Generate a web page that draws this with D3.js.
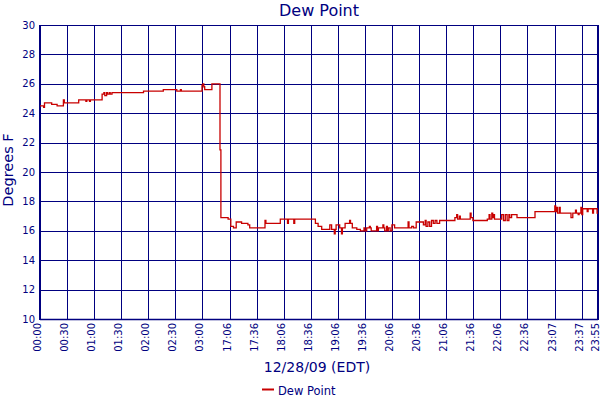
<!DOCTYPE html>
<html>
<head>
<meta charset="utf-8">
<script src="https://cdn.jsdelivr.net/npm/d3@7"></script>
<style>
  body { margin: 0; background: #fff; }
  text { font-family: "DejaVu Sans", Verdana, sans-serif; fill: #000080; }
</style>
</head>
<body>
<svg id="chart" width="600" height="400"></svg>
<script>
const chartTitle = "Dew Point";
const xTitle = "12/28/09 (EDT)";
const yTitle = "Degrees F";
const seriesName = "Dew Point";

const yTicks = [10, 12, 14, 16, 18, 20, 22, 24, 26, 28, 30];
const xTickLabels = ["00:00", "00:30", "01:00", "01:30", "02:00", "02:30", "03:00",
  "17:06", "17:36", "18:06", "18:36", "19:06", "19:36", "20:06", "20:36", "21:06",
  "21:36", "22:06", "22:36", "23:07", "23:37", "23:55"];

// logger was off between these two readings, chart squeezes it to one sample
const gapTimes = ["03:20", "16:56"];
const lastTime = "23:55";

// [time, dew point F] - value holds until the next reading
const readings = [
  ["00:00", 24.5], ["00:04", 24.4], ["00:05", 24.7], ["00:13", 24.6], ["00:19", 24.5],
  ["00:26", 24.9], ["00:27", 24.7], ["00:43", 24.9], ["00:51", 24.8], ["00:52", 24.9],
  ["00:55", 24.8], ["00:56", 24.9], ["01:09", 25.3], ["01:11", 25.4], ["01:12", 25.2],
  ["01:14", 25.4], ["01:15", 25.3], ["01:17", 25.4], ["01:18", 25.3], ["01:20", 25.4],
  ["01:55", 25.5], ["02:17", 25.6], ["02:32", 25.5], ["02:36", 25.6], ["02:37", 25.5],
  ["03:00", 25.9], ["03:01", 26.0], ["03:02", 25.8], ["03:03", 25.6], ["03:11", 26.0],
  ["03:20", 21.5],
  ["16:56", 16.9], ["17:04", 16.8], ["17:07", 16.3], ["17:10", 16.2], ["17:13", 16.6],
  ["17:19", 16.5], ["17:26", 16.4], ["17:28", 16.2], ["17:45", 16.7], ["17:46", 16.5],
  ["18:02", 16.8], ["18:10", 16.5], ["18:11", 16.8], ["18:17", 16.5], ["18:18", 16.8],
  ["18:41", 16.5], ["18:44", 16.3], ["18:48", 16.1], ["18:57", 16.4], ["18:59", 16.1],
  ["19:02", 15.8], ["19:03", 16.1], ["19:04", 16.4], ["19:08", 16.2], ["19:10", 15.8],
  ["19:11", 16.2], ["19:14", 16.5], ["19:19", 16.7], ["19:20", 16.5], ["19:22", 16.2],
  ["19:27", 16.1], ["19:31", 16.0], ["19:35", 16.2], ["19:36", 16.0], ["19:38", 16.2],
  ["19:41", 16.3], ["19:42", 16.2], ["19:43", 16.0], ["19:49", 16.3], ["19:50", 16.0],
  ["19:51", 16.2], ["19:56", 16.4], ["19:57", 16.2], ["19:58", 16.0], ["20:00", 16.3],
  ["20:01", 16.0], ["20:02", 16.2], ["20:04", 16.0], ["20:06", 16.4], ["20:09", 16.2],
  ["20:24", 16.6], ["20:25", 16.2], ["20:28", 16.3], ["20:30", 16.2], ["20:33", 16.6],
  ["20:41", 16.4], ["20:43", 16.7], ["20:44", 16.3], ["20:46", 16.6], ["20:48", 16.3],
  ["20:50", 16.7], ["20:52", 16.5], ["20:54", 16.7], ["20:56", 16.5], ["20:59", 16.7],
  ["21:16", 16.9], ["21:18", 17.1], ["21:19", 16.8], ["21:21", 17.0], ["21:22", 16.8],
  ["21:33", 17.2], ["21:34", 16.9], ["21:36", 16.7], ["21:52", 16.8], ["21:54", 17.1],
  ["21:55", 16.8], ["21:57", 17.2], ["21:58", 16.9], ["21:59", 17.1], ["22:00", 16.8],
  ["22:08", 17.1], ["22:10", 16.7], ["22:12", 17.1], ["22:14", 16.7], ["22:16", 17.1],
  ["22:17", 16.9], ["22:19", 17.1], ["22:25", 16.9], ["22:45", 17.3], ["23:07", 17.7],
  ["23:08", 17.3], ["23:09", 17.6], ["23:10", 17.2], ["23:12", 17.6], ["23:13", 17.2],
  ["23:18", 17.2], ["23:25", 16.9], ["23:27", 17.2], ["23:30", 17.4], ["23:31", 17.2],
  ["23:33", 17.1], ["23:34", 17.2], ["23:36", 17.6], ["23:37", 17.1], ["23:38", 17.5],
  ["23:43", 17.3], ["23:44", 17.5], ["23:49", 17.2], ["23:50", 17.5], ["23:54", 17.2],
  ["23:55", 17.2]
];

const NAVY = "#000080";
const LINE_RED = "#c80000";

const toMin = s => { const [h, m] = s.split(":").map(Number); return h * 60 + m; };

const svg = d3.select("#chart");
svg.append("rect").attr("width", 600).attr("height", 400).attr("fill", "#fff");

const plot = {left: 40, right: 598, top: 25, bottom: 319};

// minutes of day -> sample position, the gap counts as one sample
const g0 = toMin(gapTimes[0]), g1 = toMin(gapTimes[1]), gEnd = toMin(lastTime);
const nSamples = g0 + 1 + (gEnd - g1);
const pxPer = (plot.right - plot.left) / nSamples;
const x = d3.scaleLinear()
    .domain([0, g0, g1, gEnd])
    .range([plot.left, plot.left + g0 * pxPer, plot.left + (g0 + 1) * pxPer, plot.right]);
const y = d3.scaleLinear().domain([10, 30]).range([plot.bottom, plot.top]);

// grid
const grid = svg.append("g").attr("stroke", NAVY).attr("stroke-width", 1).attr("shape-rendering", "crispEdges");
grid.selectAll(".hg").data(yTicks).join("line")
    .attr("x1", plot.left).attr("x2", plot.right)
    .attr("y1", d => Math.round(y(d)) + 0.5).attr("y2", d => Math.round(y(d)) + 0.5);
grid.selectAll(".vg").data(xTickLabels).join("line")
    .attr("x1", d => Math.round(x(toMin(d))) + 0.5).attr("x2", d => Math.round(x(toMin(d))) + 0.5)
    .attr("y1", plot.top).attr("y2", plot.bottom);

// axis frame
svg.append("line").attr("x1", plot.left).attr("x2", plot.left).attr("y1", plot.top).attr("y2", plot.bottom + 1)
    .attr("stroke", NAVY).attr("stroke-width", 2);
svg.append("line").attr("x1", plot.right).attr("x2", plot.right).attr("y1", plot.top).attr("y2", plot.bottom + 1)
    .attr("stroke", NAVY).attr("stroke-width", 2);
svg.append("line").attr("x1", plot.left).attr("x2", plot.right).attr("y1", plot.bottom + 0.5).attr("y2", plot.bottom + 0.5)
    .attr("stroke", NAVY).attr("stroke-width", 1.5);

// y tick labels
svg.append("g").selectAll("text").data(yTicks).join("text")
    .attr("x", 35).attr("y", d => y(d)).attr("dy", "0.35em")
    .attr("text-anchor", "end").attr("font-size", 10)
    .text(d => d);

// x tick labels, rotated
svg.append("g").selectAll("text").data(xTickLabels).join("text")
    .attr("transform", d => `translate(${x(toMin(d)) + 1},${plot.bottom + 4}) rotate(-90)`)
    .attr("text-anchor", "end").attr("font-size", 10)
    .text(d => d);

// series
const line = d3.line()
    .x(d => x(toMin(d[0])))
    .y(d => y(d[1]))
    .curve(d3.curveStepAfter);
svg.append("path").datum(readings)
    .attr("d", line).attr("fill", "none")
    .attr("stroke", LINE_RED).attr("stroke-width", 1.3);

// titles
svg.append("text").attr("x", (plot.left + plot.right) / 2).attr("y", 16)
    .attr("text-anchor", "middle").attr("font-size", 16).text(chartTitle);
svg.append("text").attr("x", 317).attr("y", 372)
    .attr("text-anchor", "middle").attr("font-size", 14).text(xTitle);
svg.append("text").attr("transform", `translate(13,170) rotate(-90)`)
    .attr("text-anchor", "middle").attr("font-size", 14.5).text(yTitle);

// legend
svg.append("line").attr("x1", 262).attr("x2", 274).attr("y1", 389.5).attr("y2", 389.5)
    .attr("stroke", LINE_RED).attr("stroke-width", 2);
svg.append("text").attr("x", 278).attr("y", 395).attr("font-size", 11.5).text(seriesName);
</script>
</body>
</html>
